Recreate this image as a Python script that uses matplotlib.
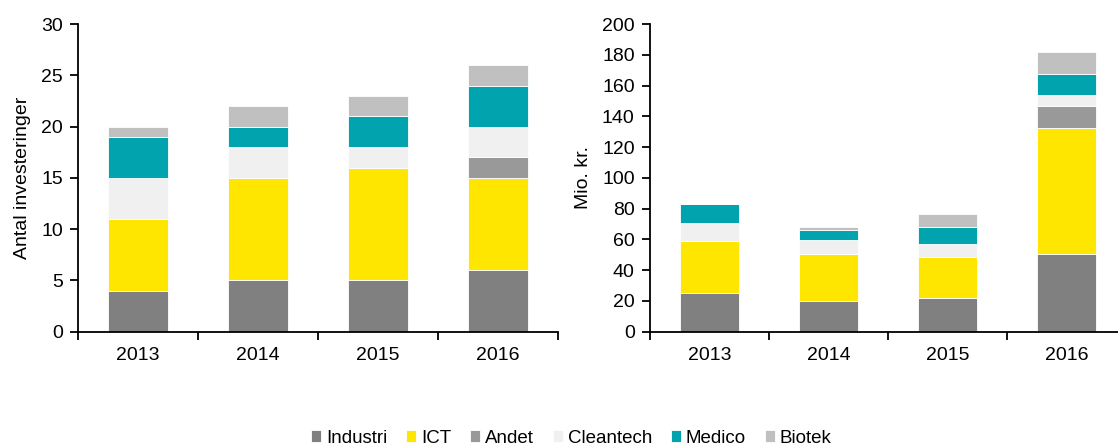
import numpy as np
import matplotlib
matplotlib.use("Agg")
import matplotlib.pyplot as plt
from matplotlib.ticker import FixedLocator

plt.rcParams['font.family'] = ['Liberation Sans Narrow', 'Liberation Sans', 'DejaVu Sans']
plt.rcParams['font.size'] = 14

years = ['2013', '2014', '2015', '2016']
sectors = ['Industri', 'ICT', 'Andet', 'Cleantech', 'Medico', 'Biotek']
colors = ['#808080', '#ffe600', '#999999', '#f0f0f0', '#00a3ae', '#c0c0c0']

# antal investeringer
antal = {
    'Industri': [4, 5, 5, 6],
    'ICT': [7, 10, 11, 9],
    'Andet': [0, 0, 0, 2],
    'Cleantech': [4, 3, 2, 3],
    'Medico': [4, 2, 3, 4],
    'Biotek': [1, 2, 2, 2],
}

# mio. kr.
belob = {
    'Industri': [25.2, 19.8, 22.1, 50.2],
    'ICT': [33.6, 31.0, 26.5, 82.0],
    'Andet': [0, 0, 0, 14.8],
    'Cleantech': [11.8, 8.9, 8.5, 7.0],
    'Medico': [12.4, 6.1, 10.7, 13.4],
    'Biotek': [0, 2.0, 8.9, 14.6],
}

fig = plt.figure(figsize=(11.18, 4.48), dpi=100)
ax1 = fig.add_axes([0.0698, 0.2596, 0.4293, 0.6868])
ax2 = fig.add_axes([0.5814, 0.2596, 0.4258, 0.6868])


def stacked(ax, data, ymax, step, ylabel):
    x = np.arange(len(years))
    bottom = np.zeros(len(years))
    handles = []
    for name, col in zip(sectors, colors):
        vals = np.array(data[name], dtype=float)
        h = ax.bar(x, vals, 0.5, bottom=bottom, color=col, edgecolor='white',
                   linewidth=0.6, label=name)
        handles.append(h)
        bottom += vals
    ax.set_xlim(-0.5, len(years) - 0.5)
    ax.set_ylim(0, ymax)
    ax.set_yticks(np.arange(0, ymax + 0.1, step))
    ax.set_xticks(x)
    ax.set_xticklabels(years)
    ax.xaxis.set_minor_locator(FixedLocator(np.arange(-0.5, len(years), 1.0)))
    ax.tick_params(axis='x', which='major', length=0, pad=11)
    ax.tick_params(axis='x', which='minor', length=6, width=1.3, direction='out')
    ax.tick_params(axis='y', length=6, width=1.3, direction='out', pad=5)
    for s in ['top', 'right']:
        ax.spines[s].set_visible(False)
    for s in ['left', 'bottom']:
        ax.spines[s].set_linewidth(1.3)
    ax.set_ylabel(ylabel, labelpad=7)
    return handles


handles = stacked(ax1, antal, 30, 5, 'Antal investeringer')
stacked(ax2, belob, 200, 20, 'Mio. kr.')

fig.legend(handles, sectors, loc='center', bbox_to_anchor=(0.511, 0.022), ncol=6,
           frameon=False, fontsize=13.5, handlelength=0.55, handleheight=0.55,
           handletextpad=0.25, columnspacing=1.0, borderpad=0)

fig.savefig('out.png', dpi=100)
